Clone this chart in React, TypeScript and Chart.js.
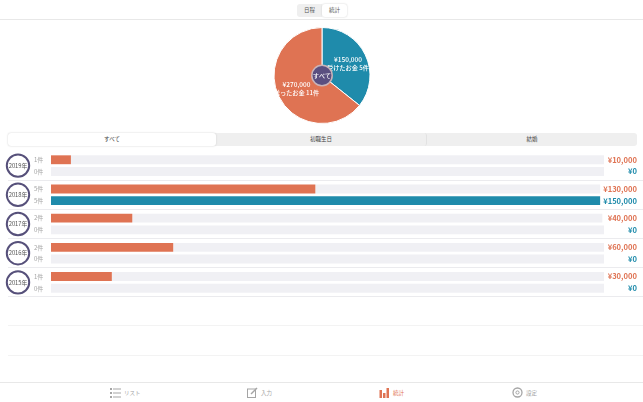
import React, { useEffect, useRef } from "react";
import { Chart, ChartConfiguration, Plugin, registerables } from "chart.js";

Chart.register(...registerables);

const FONT = '"Noto Sans CJK JP", "Noto Sans", sans-serif';
const ORANGE = "#df7353";
const BLUE = "#1f8bab";
const TRACK = "#f0f0f4";
const PURPLE = "#56507a";

const pieLabels = ["受けたお金", "送ったお金"];
const pieValues = [150000, 270000];
const pieCounts = ["5件", "11件"];

const years = ["2019年", "2018年", "2017年", "2016年", "2015年"];
const paidCounts = ["1件", "5件", "2件", "2件", "1件"];
const receivedCounts = ["0件", "5件", "0件", "0件", "0件"];
const paidYen = ["¥10,000", "¥130,000", "¥40,000", "¥60,000", "¥30,000"];
const receivedYen = ["¥0", "¥150,000", "¥0", "¥0", "¥0"];
// bar lengths, % of the widest track
const paidFill = [3.6, 47.8, 14.7, 22.1, 11];
const paidRest = [96.4, 51.5, 85, 77.9, 89];
const receivedFill = [null, 99.3, null, null, null];
const receivedRest = [100, null, 100, 100, 100];

const tabs = ["すべて", "初職生日", "結婚"];
const dividerRows = [180, 209, 238, 267, 296, 325, 355];

const pieText: Plugin<"pie"> = {
    id: "pieText",
    afterDatasetsDraw(chart) {
        const ctx = chart.ctx;
        const arcs = chart.getDatasetMeta(0).data as any[];
        const cx = arcs[0].x;
        const cy = arcs[0].y;
        ctx.save();
        ctx.fillStyle = "#fff";
        ctx.textAlign = "center";
        ctx.textBaseline = "middle";
        const spots = [
            [26, -15.5],
            [-25.5, 9.5],
        ];
        pieValues.forEach((v, i) => {
            ctx.font = `500 6.5px ${FONT}`;
            ctx.fillText("¥" + v.toLocaleString("en-US"), cx + spots[i][0], cy + spots[i][1]);
            ctx.font = `500 6.2px ${FONT}`;
            ctx.fillText(pieLabels[i] + " " + pieCounts[i], cx + spots[i][0], cy + spots[i][1] + 7.5);
        });
        ctx.beginPath();
        ctx.arc(cx, cy, 10.2, 0, Math.PI * 2);
        ctx.fillStyle = "#5a4f80";
        ctx.fill();
        ctx.lineWidth = 1.5;
        ctx.strokeStyle = "#c9b3b8";
        ctx.stroke();
        ctx.fillStyle = "#fff";
        ctx.font = `500 6px ${FONT}`;
        ctx.fillText("すべて", cx, cy);
        ctx.restore();
    },
};

const rowText: Plugin<"bar"> = {
    id: "rowText",
    afterDatasetsDraw(chart) {
        const ctx = chart.ctx;
        const paid = chart.getDatasetMeta(0).data as any[];
        const received = chart.getDatasetMeta(2).data as any[];
        ctx.save();
        ctx.textBaseline = "middle";
        years.forEach((year, i) => {
            const yTop = paid[i].y;
            const yBottom = received[i].y;
            const mid = (yTop + yBottom) / 2;
            ctx.beginPath();
            ctx.arc(18, mid, 11.2, 0, Math.PI * 2);
            ctx.lineWidth = 2;
            ctx.strokeStyle = PURPLE;
            ctx.stroke();
            ctx.fillStyle = "#555";
            ctx.textAlign = "center";
            ctx.font = `5.8px ${FONT}`;
            ctx.fillText(year, 18, mid);

            ctx.textAlign = "left";
            ctx.fillStyle = "#a5a5a5";
            ctx.font = `6px ${FONT}`;
            ctx.fillText(paidCounts[i], 34, yTop);
            ctx.fillText(receivedCounts[i], 34, yBottom);

            ctx.textAlign = "right";
            ctx.font = `bold 7.6px ${FONT}`;
            ctx.fillStyle = ORANGE;
            ctx.fillText(paidYen[i], 637, yTop);
            ctx.fillStyle = BLUE;
            ctx.fillText(receivedYen[i], 637, yBottom);
        });
        ctx.restore();
    },
};

const App: React.FC = () => {
    const pieRef = useRef<HTMLCanvasElement>(null);
    const barRef = useRef<HTMLCanvasElement>(null);

    useEffect(() => {
        document.body.style.margin = "0";
        if (!pieRef.current || !barRef.current) return;

        const pieConfig: ChartConfiguration<"pie"> = {
            type: "pie",
            data: {
                labels: pieLabels,
                datasets: [
                    {
                        data: pieValues,
                        backgroundColor: [BLUE, ORANGE],
                        borderColor: "#fff",
                        borderWidth: 1,
                    },
                ],
            },
            options: {
                animation: false,
                responsive: false,
                radius: 48,
                plugins: { legend: { display: false }, tooltip: { enabled: false } },
            },
            plugins: [pieText],
        };

        const barConfig: ChartConfiguration<"bar"> = {
            type: "bar",
            data: {
                labels: years,
                datasets: [
                    { data: paidFill, stack: "paid", backgroundColor: ORANGE },
                    { data: paidRest, stack: "paid", backgroundColor: TRACK },
                    { data: receivedFill, stack: "received", backgroundColor: BLUE },
                    { data: receivedRest, stack: "received", backgroundColor: TRACK },
                ],
            },
            options: {
                indexAxis: "y",
                animation: false,
                responsive: false,
                layout: { padding: { left: 51, right: 39, top: 1, bottom: 3 } },
                datasets: { bar: { categoryPercentage: 0.8, barPercentage: 0.76 } },
                scales: {
                    x: { display: false, stacked: true, min: 0, max: 100 },
                    y: { display: false, stacked: true },
                },
                plugins: { legend: { display: false }, tooltip: { enabled: false } },
            },
            plugins: [rowText],
        };

        const pie = new Chart(pieRef.current, pieConfig);
        const bars = new Chart(barRef.current, barConfig);
        return () => {
            pie.destroy();
            bars.destroy();
        };
    }, []);

    const box = (left: number, top: number, width: number, height: number): React.CSSProperties => ({
        position: "absolute",
        left,
        top,
        width,
        height,
    });

    const navItems = [
        { x: 110, label: "リスト", color: "#a5a5a5" },
        { x: 247, label: "入力", color: "#a5a5a5" },
        { x: 379, label: "統計", color: ORANGE },
        { x: 512, label: "設定", color: "#a5a5a5" },
    ];

    return (
        <div style={{ ...box(0, 0, 643, 402), overflow: "hidden", background: "#fff", fontFamily: FONT, filter: "blur(0.3px)" }}>
            <div style={{ ...box(297, 4, 50, 13), display: "flex", fontSize: 5.5, color: "#555", lineHeight: "13px", textAlign: "center" }}>
                <div style={{ width: 25, background: "#efefef", borderRadius: "3px 0 0 3px" }}>日程</div>
                <div style={{ width: 25, background: "#fff", borderRadius: 3, boxShadow: "0 0 2px #ccc" }}>統計</div>
            </div>
            <div style={{ ...box(0, 19, 643, 1), background: "#e8e8e8" }} />

            <canvas ref={pieRef} width={120} height={111} style={box(262, 20, 120, 111)} />

            <div style={{ ...box(8, 133, 629, 13), display: "flex", background: "#efefef", borderRadius: 3, fontSize: 5.5, color: "#444", lineHeight: "13px", textAlign: "center" }}>
                {tabs.map((t, i) => (
                    <div
                        key={t}
                        style={{
                            width: i === 0 ? 208 : i === 1 ? 211 : 210,
                            background: i === 0 ? "#fff" : "transparent",
                            borderRadius: 3,
                            boxShadow: i === 0 ? "0 0 2px #ccc" : "none",
                            borderRight: i === 1 ? "1px solid #e2e2e2" : "none",
                            boxSizing: "border-box",
                        }}
                    >
                        {t}
                    </div>
                ))}
            </div>

            {dividerRows.map((y) => (
                <div key={y} style={{ ...box(8, y, 635, 1), background: y > 300 ? "#f3f3f3" : "#ebebee" }} />
            ))}

            <canvas ref={barRef} width={643} height={150} style={box(0, 150, 643, 150)} />

            <div style={{ ...box(0, 382, 643, 1), background: "#e8e8e8" }} />
            {navItems.map((n, i) => (
                <div key={n.label} style={{ ...box(n.x, 387, 60, 12), color: n.color, fontSize: 5.5, lineHeight: "12px", paddingLeft: 14 }}>
                    <svg width="11" height="11" viewBox="0 0 11 11" style={{ position: "absolute", left: 0, top: 0 }}>
                        {i === 0 && (
                            <g fill={n.color}>
                                <rect x="0" y="1" width="2" height="2" />
                                <rect x="0" y="5" width="2" height="2" />
                                <rect x="0" y="9" width="2" height="2" />
                                <rect x="3" y="1.5" width="8" height="1" />
                                <rect x="3" y="5.5" width="8" height="1" />
                                <rect x="3" y="9.5" width="8" height="1" />
                            </g>
                        )}
                        {i === 1 && (
                            <g fill="none" stroke={n.color}>
                                <rect x="0.5" y="2" width="8" height="8.5" />
                                <path d="M4 7 L10 1" strokeWidth="1.5" />
                            </g>
                        )}
                        {i === 2 && (
                            <g fill={n.color}>
                                <rect x="0.5" y="3" width="2.5" height="8" />
                                <rect x="4" y="6" width="2.5" height="5" />
                                <rect x="7.5" y="1" width="2.5" height="10" />
                            </g>
                        )}
                        {i === 3 && (
                            <g fill="none" stroke={n.color}>
                                <circle cx="5.5" cy="5.5" r="4.5" strokeWidth="1.3" />
                                <circle cx="5.5" cy="5.5" r="1.6" />
                            </g>
                        )}
                    </svg>
                    {n.label}
                </div>
            ))}
        </div>
    );
};

export default App;
